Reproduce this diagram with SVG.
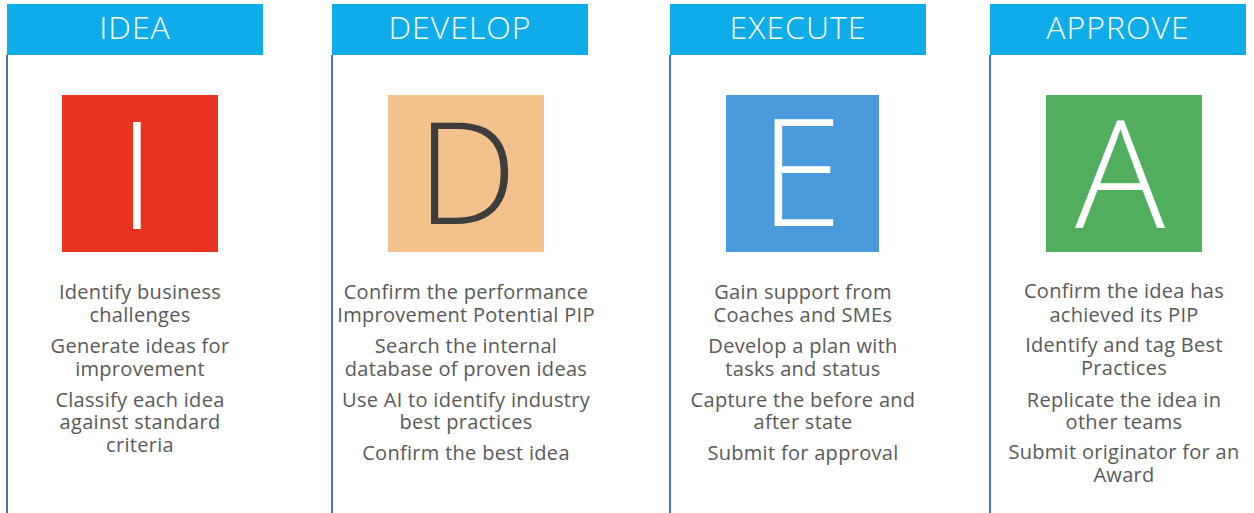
<svg xmlns="http://www.w3.org/2000/svg" width="1254" height="513" viewBox="0 0 1254 513">
<style>
.hdr{fill:#0EADE9}
.htxt{font-family:"Open Sans","Liberation Sans",sans-serif;font-weight:300;font-size:32px;letter-spacing:1px;fill:#ffffff;text-anchor:middle}
.big{font-family:"Open Sans","Liberation Sans",sans-serif;font-weight:300;font-size:150px;text-anchor:middle}
.body{font-family:"Open Sans","Liberation Sans",sans-serif;font-weight:400;font-size:20px;letter-spacing:0.3px;fill:#595959;text-anchor:middle}
.vline{stroke:#4A72C4;stroke-width:2}
</style>
<rect width="1254" height="513" fill="#ffffff"/>
<g id="col-idea">
<rect class="hdr" x="7" y="4" width="256" height="51"/>
<text class="htxt" x="135" y="39">IDEA</text>
<line class="vline" x1="7" y1="55" x2="7" y2="513"/>
<rect x="62" y="95" width="156" height="157" fill="#E83323"/>
<text class="big" x="137" y="229" fill="#ffffff">I</text>
<text class="body" x="140" y="299">Identify business</text>
<text class="body" x="140" y="322">challenges</text>
<text class="body" x="140" y="353">Generate ideas for</text>
<text class="body" x="140" y="375.5">improvement</text>
<text class="body" x="140" y="406.5">Classify each idea</text>
<text class="body" x="140" y="429">against standard</text>
<text class="body" x="140" y="451.5">criteria</text>
</g>
<g id="col-develop">
<rect class="hdr" x="332" y="4" width="256" height="51"/>
<text class="htxt" x="460" y="39">DEVELOP</text>
<line class="vline" x1="332" y1="55" x2="332" y2="513"/>
<rect x="388" y="95" width="156" height="157" fill="#F2C18C"/>
<text class="big" x="467" y="224" fill="#3D3D3D" style="font-size:142px">D</text>
<text class="body" x="466" y="299">Confirm the performance</text>
<text class="body" x="466" y="322">Improvement Potential PIP</text>
<text class="body" x="466" y="353">Search the internal</text>
<text class="body" x="466" y="375.5">database of proven ideas</text>
<text class="body" x="466" y="406.5">Use AI to identify industry</text>
<text class="body" x="466" y="429">best practices</text>
<text class="body" x="466" y="460">Confirm the best idea</text>
</g>
<g id="col-execute">
<rect class="hdr" x="670" y="4" width="256" height="51"/>
<text class="htxt" x="798" y="39">EXECUTE</text>
<line class="vline" x1="670" y1="55" x2="670" y2="513"/>
<rect x="726" y="95" width="153" height="157" fill="#4A9ADB"/>
<text class="big" x="801" y="226" fill="#ffffff">E</text>
<text class="body" x="803" y="299">Gain support from</text>
<text class="body" x="803" y="322">Coaches and SMEs</text>
<text class="body" x="803" y="353">Develop a plan with</text>
<text class="body" x="803" y="375.5">tasks and status</text>
<text class="body" x="803" y="406.5">Capture the before and</text>
<text class="body" x="803" y="429">after state</text>
<text class="body" x="803" y="460">Submit for approval</text>
</g>
<g id="col-approve">
<rect class="hdr" x="990" y="4" width="256" height="51"/>
<text class="htxt" x="1118" y="39">APPROVE</text>
<line class="vline" x1="990" y1="55" x2="990" y2="513"/>
<rect x="1046" y="95" width="156" height="157" fill="#52AE5F"/>
<text class="big" x="1120" y="228" fill="#ffffff">A</text>
<text class="body" x="1124" y="298">Confirm the idea has</text>
<text class="body" x="1124" y="321.5">achieved its PIP</text>
<text class="body" x="1124" y="352">Identify and tag Best</text>
<text class="body" x="1124" y="375">Practices</text>
<text class="body" x="1124" y="406.5">Replicate the idea in</text>
<text class="body" x="1124" y="429">other teams</text>
<text class="body" x="1124" y="459">Submit originator for an</text>
<text class="body" x="1124" y="482">Award</text>
</g>
<g id="connectors"></g>
</svg>
